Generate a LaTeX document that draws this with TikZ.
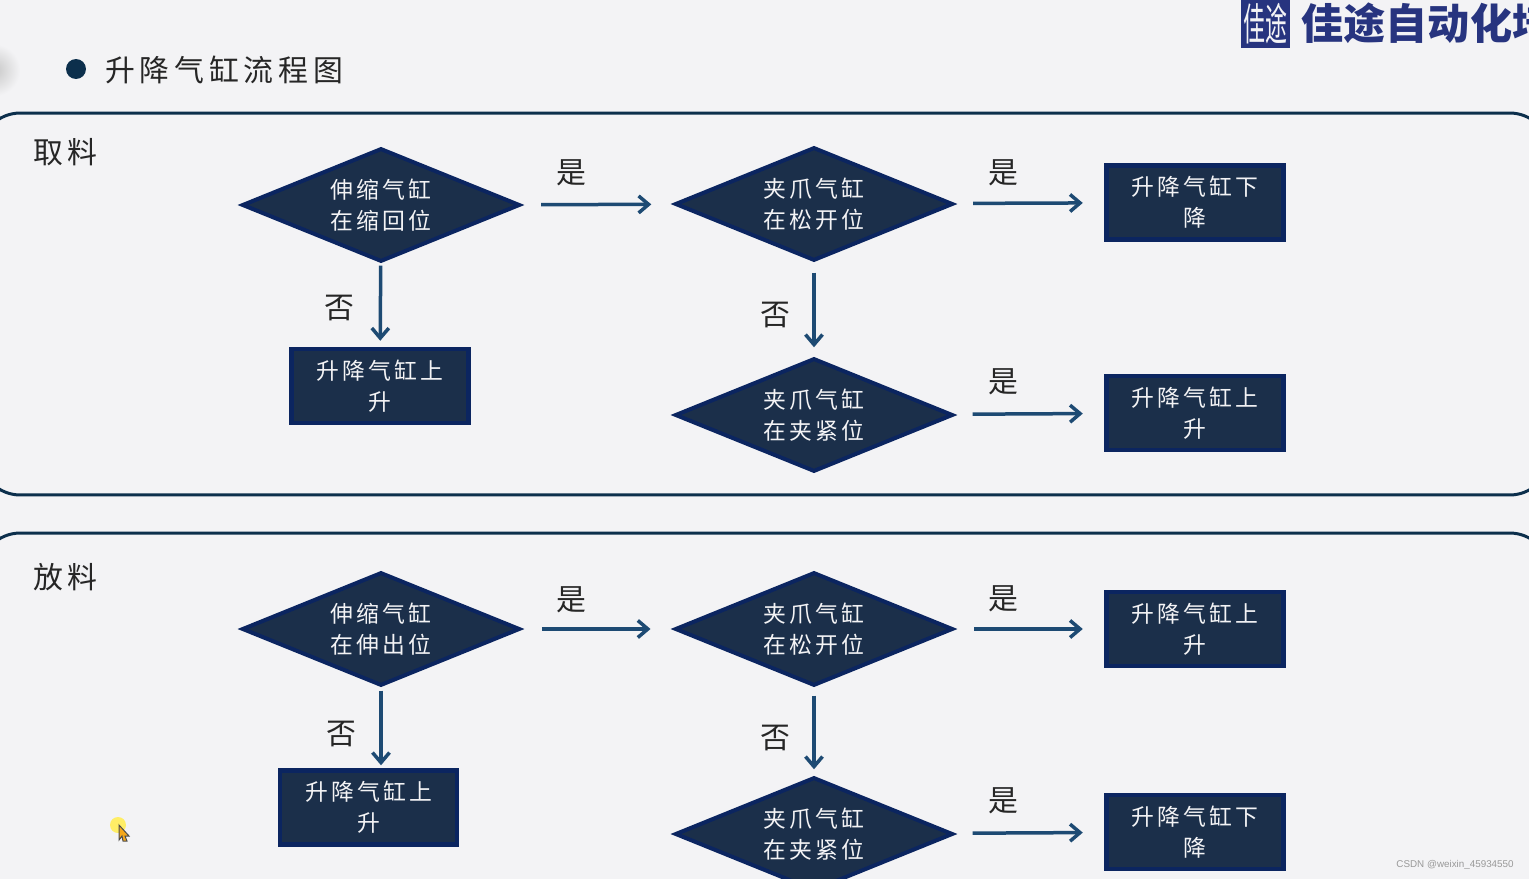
\documentclass[tikz,border=0pt]{standalone}
\usepackage{fontspec}
\usepackage{xcolor}
\usetikzlibrary{arrows.meta,shapes.geometric}
\newfontfamily\cjkbody[LetterSpace=14]{Noto Sans CJK SC}
\newfontfamily\cjkhead[LetterSpace=16]{Noto Sans CJK SC}
\newfontfamily\cjklogo{Noto Sans CJK SC}
\setmainfont{Liberation Sans}
\definecolor{SlideBg}{HTML}{F3F3F5}
\definecolor{PanelLine}{HTML}{0C2F4C}
\definecolor{NodeFill}{HTML}{1B2F4A}
\definecolor{NodeEdge}{HTML}{0B2560}
\definecolor{ArrowBlue}{HTML}{1D4A73}
\definecolor{LogoBlue}{HTML}{27347F}
\definecolor{CursorGlow}{HTML}{FFEE66}
\definecolor{CursorArrow}{HTML}{F5A81C}

\begin{document}
\begin{tikzpicture}[x=0.02cm, y=-0.02cm,
  panel/.style={draw=PanelLine, line width=0.06cm, rounded corners=0.8cm, minimum width=31.4cm},
  dia/.style={diamond, draw=NodeEdge, fill=NodeFill, line width=0.08cm, aspect=2.4, inner sep=0pt,
              minimum width=5.56cm, minimum height=2.27cm, align=center, text=SlideBg,
              font=\cjkbody\fontsize{13}{17.6}\selectfont},
  act/.style={rectangle, draw=NodeEdge, fill=NodeFill, line width=0.09cm, inner sep=0pt,
              minimum width=3.54cm, minimum height=1.48cm, align=center, text=SlideBg,
              font=\cjkbody\fontsize{13}{17.6}\selectfont},
  ar/.style={-{Straight Barb[length=0.2cm, width=0.34cm, line width=0.07cm]}, ArrowBlue, line width=0.07cm},
  lbl/.style={font=\cjkhead\fontsize{17}{20}\selectfont, text=black!85}]
\useasboundingbox (0,0) rectangle (1529,879);
\clip (0,0) rectangle (1529,879);
\fill[SlideBg] (0,0) rectangle (1529,879);
\shade[inner color=black!22, outer color=SlideBg] (-6,70) circle (26);

% heading and logo
\node[circle, fill=PanelLine, minimum size=0.4cm, inner sep=0pt] (dot) at (76,69) {};
\node[lbl, anchor=west, inner sep=0pt] (title) at (105,70) {升降气缸流程图};
\node[fill=LogoBlue, minimum width=0.98cm, minimum height=0.96cm, inner sep=0pt] (seal) at (1265.5,24) {};
\node[text=SlideBg, xscale=1, yscale=2, inner sep=0pt, font=\cjklogo\fontsize{12.5}{14}\selectfont] (sealtxt) at (1265.5,24) {佳途};
\node[anchor=west, inner sep=0pt, text=LogoBlue, font=\cjklogo\bfseries\fontsize{24}{28}\selectfont] (brand) at (1301,23) {佳途自动化培};

% panels
\node[panel, minimum height=7.64cm] (pick) at (765,304) {};
\node[panel, minimum height=7.9cm] (place) at (765,730.5) {};
\node[lbl, anchor=west, inner sep=0pt] (pickname) at (33,152) {取料};
\node[lbl, anchor=west, inner sep=0pt] (placename) at (33,577) {放料};

% pick
\node[dia] (a1) at (381,205) {伸缩气缸\\在缩回位};
\node[dia] (a2) at (814,204) {夹爪气缸\\在松开位};
\node[dia] (a3) at (814,415) {夹爪气缸\\在夹紧位};
\node[act] (a4) at (1195,202.5) {升降气缸下\\降};
\node[act] (a5) at (380,386) {升降气缸上\\升};
\node[act] (a6) at (1195,413) {升降气缸上\\升};
\draw[ar, shorten <=0.4cm, shorten >=0.45cm] (a1) -- (a2);
\draw[ar, shorten <=0.39cm, shorten >=0.43cm] (a2) -- (a4);
\draw[ar, shorten <=0.39cm, shorten >=0.43cm] (a3) -- (a6);
\draw[ar, shorten <=0.04cm, shorten >=0.12cm] (a1) -- (a5);
\draw[ar, shorten <=0.2cm, shorten >=0.18cm] (a2) -- (a3);
\node[lbl] (a1y) at (571,173) {是};
\node[lbl] (a2y) at (1003,173) {是};
\node[lbl] (a3y) at (1003,382) {是};
\node[lbl] (a1n) at (339,308) {否};
\node[lbl] (a2n) at (775,315) {否};

% place
\node[dia] (b1) at (381,629) {伸缩气缸\\在伸出位};
\node[dia] (b2) at (814,629) {夹爪气缸\\在松开位};
\node[dia] (b3) at (814,834) {夹爪气缸\\在夹紧位};
\node[act] (b4) at (1195,629) {升降气缸上\\升};
\node[act] (b5) at (368.5,807.5) {升降气缸上\\升};
\node[act] (b6) at (1195,832) {升降气缸下\\降};
\draw[ar, shorten <=0.4cm, shorten >=0.45cm] (b1) -- (b2);
\draw[ar, shorten <=0.39cm, shorten >=0.43cm] (b2) -- (b4);
\draw[ar, shorten <=0.39cm, shorten >=0.43cm] (b3) -- (b6);
\draw[ar, shorten <=0.06cm, shorten >=0.06cm] (b1.south) -- (b1.south |- b5.north);
\draw[ar, shorten <=0.16cm, shorten >=0.12cm] (b2) -- (b3);
\node[lbl] (b1y) at (571,600) {是};
\node[lbl] (b2y) at (1003,599) {是};
\node[lbl] (b3y) at (1003,801) {是};
\node[lbl] (b1n) at (341,734) {否};
\node[lbl] (b2n) at (775,738) {否};

% pointer and watermark
\fill[CursorGlow] (118,825) circle (8);
\fill[CursorArrow, draw=black!70, line width=0.02cm] (119,825) -- (129,836) -- (125,836) -- (127,841) -- (123,841) -- (122,836) -- (119,840) -- cycle;
\node[anchor=east, inner sep=0pt, text=black!40, font=\fontsize{5.6}{7}\selectfont] (mark) at (1514,865) {CSDN @weixin\_45934550};
\end{tikzpicture}
\end{document}
